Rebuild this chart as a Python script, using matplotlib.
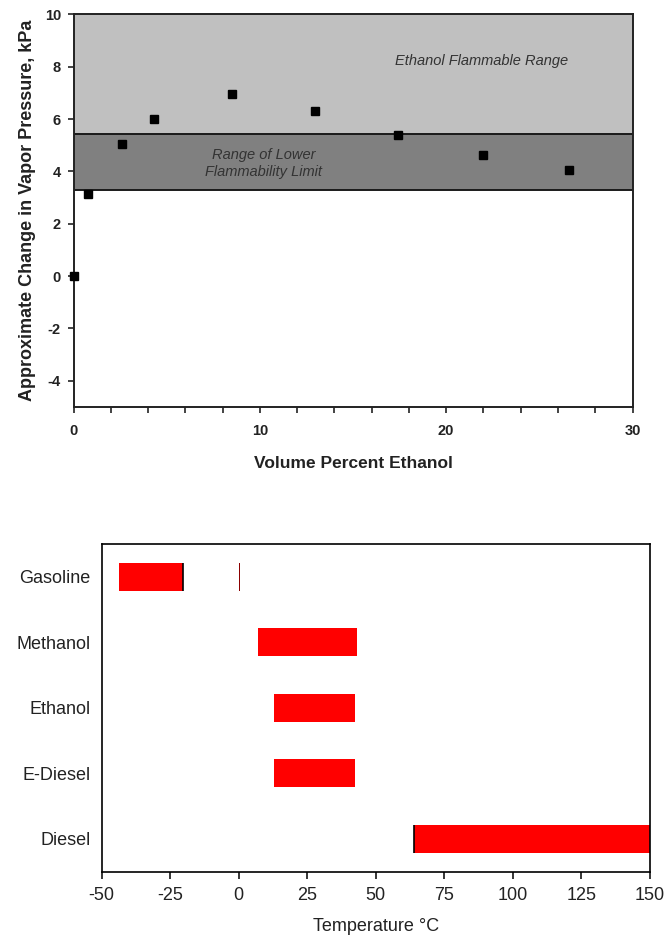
import matplotlib
matplotlib.use("Agg")
import matplotlib.pyplot as plt
from matplotlib.ticker import MultipleLocator

plt.rcParams['font.family'] = ['Liberation Sans', 'DejaVu Sans']
plt.rcParams['axes.unicode_minus'] = False

# ---- Top chart data ----
ethanol_vol = [0, 0.8, 2.6, 4.3, 8.5, 12.95, 17.4, 22.0, 26.6]
rvp_change = [0.0, 3.13, 5.06, 6.02, 6.98, 6.3, 5.38, 4.62, 4.06]
lfl_range = [3.28, 5.45]
flammable_range = [5.45, 10]

# ---- Bottom chart data ----
fuels = ["Gasoline", "Methanol", "Ethanol", "E-Diesel", "Diesel"]
range_start = [-43.5, 7.0, 13.0, 13.0, 64.0]
range_end = [-20.2, 43.3, 42.3, 42.3, 150.0]
gasoline_extra = [0.0, 0.5]

fig = plt.figure(figsize=(6.65, 9.38), dpi=100)

# ===== Top axes =====
W, H = 665, 938
ax1 = fig.add_axes([73.5 / W, 1 - 407 / H, (632.5 - 73.5) / W, (407 - 14.5) / H])
ax1.axhspan(flammable_range[0], flammable_range[1], color='#c0c0c0', zorder=0, lw=0)
ax1.axhspan(lfl_range[0], lfl_range[1], color='#808080', zorder=0, lw=0)
ax1.axhline(lfl_range[0], color='#1a1a1a', lw=1.4, zorder=1)
ax1.axhline(lfl_range[1], color='#1a1a1a', lw=1.4, zorder=1)
ax1.plot(ethanol_vol, rvp_change, linestyle='none', marker='s', markersize=6.3,
         color='black', clip_on=False, zorder=3)
ax1.set_xlim(0, 30)
ax1.set_ylim(-5, 10)
ax1.xaxis.set_major_locator(MultipleLocator(10))
ax1.xaxis.set_minor_locator(MultipleLocator(2))
ax1.yaxis.set_major_locator(MultipleLocator(2))
ax1.tick_params(axis='both', which='both', direction='out', width=1.2, color='#222222')
ax1.tick_params(axis='x', which='major', length=4, pad=8, labelsize=10.5)
ax1.tick_params(axis='x', which='minor', length=4)
ax1.tick_params(axis='y', which='major', length=4, pad=5, labelsize=10.5)
for lab in ax1.get_xticklabels() + ax1.get_yticklabels():
    lab.set_fontweight('bold')
    lab.set_color('#222222')
for sp in ax1.spines.values():
    sp.set_linewidth(1.4)
    sp.set_color('#222222')
ax1.set_xlabel("Volume Percent Ethanol", fontsize=12.5, fontweight='bold', color='#222222', labelpad=13)
ax1.set_ylabel("Approximate Change in Vapor Pressure, kPa", fontsize=13, fontweight='bold',
               color='#222222', labelpad=6)
ax1.text(21.9, 8.22, "Ethanol Flammable Range", style='italic', fontsize=10.5,
         color='#333333', ha='center', va='center')
ax1.text(10.2, 4.32, "Range of Lower\nFlammability Limit", style='italic', fontsize=10.5,
         color='#333333', ha='center', va='center', linespacing=1.25)

# ===== Bottom axes =====
ax2 = fig.add_axes([101.5 / W, 1 - 871.5 / H, (650 - 101.5) / W, (871.5 - 544) / H])
ypos = list(range(len(fuels)))[::-1]
bar_h = 0.43
widths = [e - s for s, e in zip(range_start, range_end)]
ax2.barh(ypos, widths, left=range_start, height=bar_h, color='#ff0000', zorder=2)
ax2.barh(ypos[0], gasoline_extra[1] - gasoline_extra[0], left=gasoline_extra[0],
         height=bar_h, color='#8b0000', zorder=2)
# black edges
ax2.vlines(range_end[0], ypos[0] - bar_h / 2, ypos[0] + bar_h / 2, color='black', lw=1.2, zorder=3)
ax2.vlines(range_start[4], ypos[4] - bar_h / 2, ypos[4] + bar_h / 2, color='black', lw=1.2, zorder=3)
ax2.set_xlim(-50, 150)
ax2.set_ylim(-0.5, len(fuels) - 0.5)
ax2.set_yticks(ypos)
ax2.set_yticklabels(fuels)
ax2.xaxis.set_major_locator(MultipleLocator(25))
ax2.tick_params(axis='y', length=0, pad=8, labelsize=13, labelcolor='#222222')
ax2.tick_params(axis='x', direction='out', length=5, width=1.1, pad=6, labelsize=13,
                labelcolor='#222222')
for sp in ax2.spines.values():
    sp.set_linewidth(1.2)
    sp.set_color('black')
ax2.set_xlabel("Temperature °C", fontsize=13, color='#222222', labelpad=10)

fig.savefig("out.png", dpi=100)
